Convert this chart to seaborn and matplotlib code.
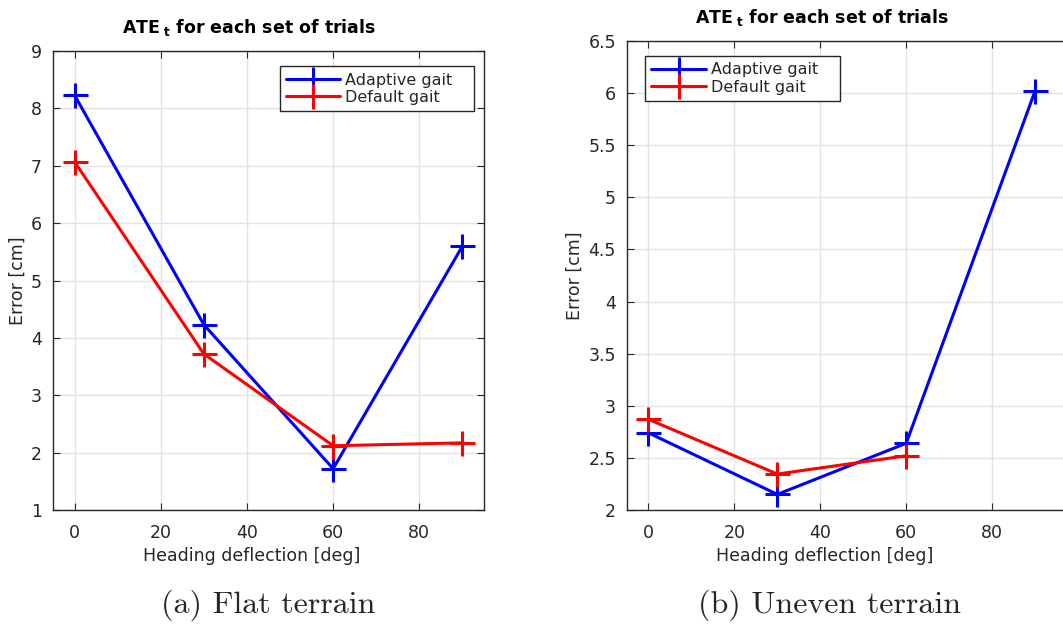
import numpy as np
import pandas as pd
import matplotlib
matplotlib.use("Agg")
import matplotlib.pyplot as plt
import seaborn as sns

# Heading deflection angles [deg]
angles = [0, 30, 60, 90]

# Flat terrain ATE_t [cm]
flat_adaptive = [8.23, 4.23, 1.72, 5.60]
flat_default = [7.07, 3.72, 2.12, 2.17]

# Uneven terrain ATE_t [cm] (default gait has no 90 deg trial)
uneven_adaptive = [2.74, 2.15, 2.64, 6.02]
uneven_default = [2.87, 2.345, 2.52]

gaits = ["Adaptive gait", "Default gait"]
colors = {"Adaptive gait": "#0000ff", "Default gait": "#ff0000"}

sns.set_theme(style="white")
plt.rcParams["font.family"] = ["DejaVu Sans"]
plt.rcParams["mathtext.fontset"] = "dejavusans"

def make_frame(adaptive, default):
    rows = []
    for a, v in zip(angles, adaptive):
        rows.append({"angle": a, "error": v, "gait": gaits[0]})
    for a, v in zip(angles, default):
        rows.append({"angle": a, "error": v, "gait": gaits[1]})
    return pd.DataFrame(rows)

fig = plt.figure(figsize=(10.63, 6.24), dpi=100)
W, H = 1063, 624
ax1 = fig.add_axes([53 / W, 1 - 510 / H, 431 / W, 459 / H])
ax2 = fig.add_axes([627 / W, 1 - 510 / H, 451 / W, 469 / H])

txt = "#262626"
FS = 12.5

def draw(ax, df, ylim, yticks, xlim, legend_loc, legend_anchor, title_x):
    for g in gaits:
        sub = df[df["gait"] == g]
        sns.lineplot(data=sub, x="angle", y="error", ax=ax, color=colors[g],
                     linewidth=2.2, marker="+", markersize=18,
                     markeredgewidth=2.2, markeredgecolor=colors[g],
                     markerfacecolor=colors[g], label=g + "   ", sort=False,
                     zorder=3)
    ax.set_xlim(*xlim)
    ax.set_ylim(*ylim)
    ax.set_xticks([0, 20, 40, 60, 80])
    ax.set_yticks(yticks)
    ax.set_yticklabels([f"{t:g}" for t in yticks])
    ax.grid(True, color="#e3e3e3", linewidth=1.0, zorder=0)
    ax.tick_params(direction="in", length=5, width=0.8, colors=txt,
                   labelsize=FS, top=True, right=True, bottom=True, left=True,
                   pad=8)
    ax.tick_params(axis="x", pad=10)
    for s in ax.spines.values():
        s.set_color(txt)
        s.set_linewidth(1.0)
    ax.set_xlabel("Heading deflection [deg]", fontsize=FS, color=txt,
                  labelpad=4, x=title_x + 0.007)
    ax.set_ylabel("Error [cm]", fontsize=FS, color=txt, labelpad=3)
    ax.set_title(r"$\mathbf{ATE}_{\ \mathbf{t}}$ for each set of trials",
                 fontsize=12.5, fontweight="bold", color="black", pad=13,
                 x=title_x)
    leg = ax.legend(loc=legend_loc, bbox_to_anchor=legend_anchor, fontsize=11.5,
                    frameon=True, fancybox=False, edgecolor=txt,
                    handlelength=3.4, handletextpad=0.3, borderpad=0.4,
                    labelspacing=0.15, borderaxespad=0)
    leg.get_frame().set_linewidth(1.0)
    leg.get_frame().set_alpha(1.0)

draw(ax1, make_frame(flat_adaptive, flat_default), (1, 9),
     [1, 2, 3, 4, 5, 6, 7, 8, 9], (-5, 95), "upper right", (0.977, 0.967),
     0.455)
draw(ax2, make_frame(uneven_adaptive, uneven_default), (2, 6.5),
     [2, 2.5, 3, 3.5, 4, 4.5, 5, 5.5, 6, 6.5], (-5, 100), "upper left",
     (0.04, 0.968), 0.432)

fig.text(268 / W, 1 - 605 / H, "(a) Flat terrain", fontfamily="cmr10",
         fontsize=23, ha="center", va="center", color=txt)
fig.text(830 / W, 1 - 605 / H, "(b) Uneven terrain", fontfamily="cmr10",
         fontsize=23, ha="center", va="center", color=txt)

fig.savefig("out.png", dpi=100)
